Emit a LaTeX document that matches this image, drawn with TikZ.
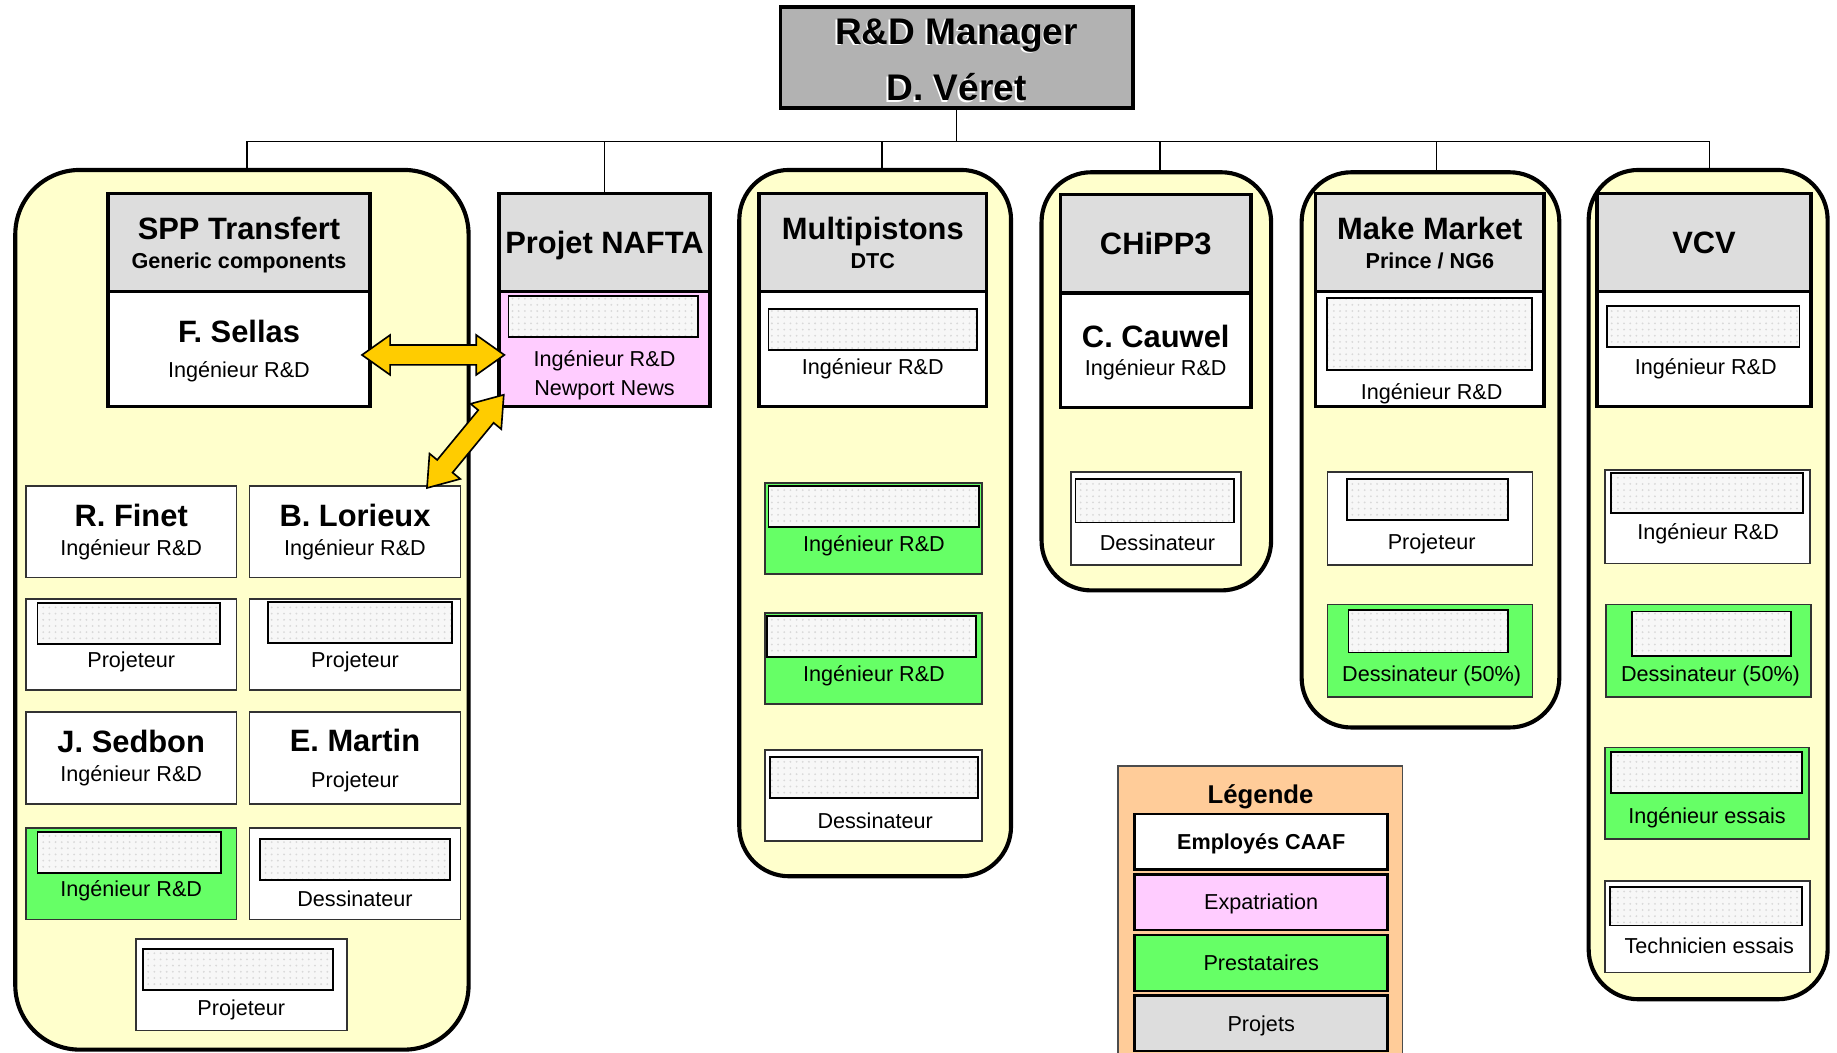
\documentclass[tikz,border=0pt]{standalone}
\usepackage{fontspec}
\setmainfont{Liberation Sans}
\usetikzlibrary{calc,positioning,patterns}
\definecolor{grpyellow}{RGB}{255,255,204}
\definecolor{hdrgray}{RGB}{221,221,221}
\definecolor{mgrgray}{RGB}{178,178,178}
\definecolor{expatpink}{RGB}{255,204,255}
\definecolor{prestgreen}{RGB}{102,255,102}
\definecolor{legorange}{RGB}{255,204,153}
\definecolor{arrowyellow}{RGB}{255,204,0}

\newcommand{\mgrfont}{\fontsize{18}{27.4}\selectfont\bfseries}
\newcommand{\namefont}{\fontsize{15}{14}\selectfont\bfseries}
\newcommand{\projsubfont}{\fontsize{10.5}{13}\selectfont\bfseries}
\newcommand{\rolefont}{\fontsize{10.5}{14}\selectfont}
\newcommand{\legtitlefont}{\fontsize{12.5}{15}\selectfont\bfseries}

%% fat yellow double arrow between two named points
\newcommand{\fatarrow}[2]{%
  \coordinate (fa-a) at ($(#1)!0.48cm!(#2)$);
  \coordinate (fa-b) at ($(#2)!0.48cm!(#1)$);
  \draw[arrowfill]
    (#1) -- ($(fa-a)!0.34cm!90:(#2)$) -- ($(fa-a)!0.17cm!90:(#2)$)
    -- ($(fa-b)!0.17cm!-90:(#1)$) -- ($(fa-b)!0.34cm!-90:(#1)$)
    -- (#2) -- ($(fa-b)!0.34cm!90:(#1)$) -- ($(fa-b)!0.17cm!90:(#1)$)
    -- ($(fa-a)!0.17cm!-90:(#2)$) -- ($(fa-a)!0.34cm!-90:(#2)$) -- cycle;
}

\tikzset{
  grp/.style={draw=black,line width=2pt,fill=grpyellow,rounded corners=0.85cm,
    inner sep=0pt,outer sep=0pt},
  mgrbox/.style={draw=black,line width=1.7pt,fill=mgrgray,inner sep=0pt,outer sep=0pt},
  hdr/.style={draw=black,line width=1.7pt,fill=hdrgray,minimum height=1.68cm,
    inner sep=0pt,outer sep=0pt,align=center,font=\namefont,text depth=0pt},
  bodybox/.style={draw=black,line width=1.7pt,fill=white,minimum height=1.96cm,
    inner sep=0pt,outer sep=0pt,align=center,font=\rolefont,text depth=0pt},
  staff/.style={draw=black!80,line width=0.8pt,fill=white,minimum width=3.6cm,
    minimum height=1.56cm,inner sep=0pt,outer sep=0pt,align=center,font=\rolefont},
  maskbox/.style={draw=black,line width=0.9pt,pattern=dots,pattern color=gray!30,
    preaction={fill=gray!6},inner sep=0pt,outer sep=0pt,minimum height=0.7cm},
  role/.style={font=\rolefont,inner sep=0pt,align=center,yshift=-0.04cm},
  legbox/.style={draw=black!70,line width=0.8pt,fill=legorange,inner sep=0pt},
  legentry/.style={draw=black,line width=1.2pt,minimum width=4.32cm,
    minimum height=0.95cm,inner sep=0pt,font=\rolefont,text depth=0pt},
  orgline/.style={line width=0.7pt},
  arrowfill/.style={fill=arrowyellow,draw=black,line width=0.8pt},
}

\begin{document}
\begin{tikzpicture}[x=0.02cm,y=-0.02cm]

\useasboundingbox (0,0) rectangle (1568,898);
\clip (0,0) rectangle (1568,898);

%% ── manager ──────────────────────────────────────────────────────────────────
\node[mgrbox,minimum width=6.02cm,minimum height=1.72cm] (mgr) at (816.5,49) {};
\node[font=\mgrfont,align=center,white,inner sep=0pt] (mgrshade)
  at ($(mgr)+(-1.5,3.5)$) {R\&D Manager\\D. Véret};
\node[font=\mgrfont,align=center,inner sep=0pt] (mgrtext)
  at ($(mgr)+(0,2)$) {R\&D Manager\\D. Véret};

%% ── project groups (yellow frames) ───────────────────────────────────────────
\node[grp,rounded corners=1.1cm,minimum width=7.74cm,minimum height=15.02cm]
  (gspp) at (206.5,520.5) {};
\node[grp,minimum width=4.64cm,minimum height=12.06cm] (gmulti) at (747,446.5) {};
\node[grp,minimum width=3.92cm,minimum height=7.14cm] (gchipp) at (987,325.5) {};
\node[grp,minimum width=4.4cm,minimum height=9.48cm] (gmarket) at (1221,384) {};
\node[grp,minimum width=4.08cm,minimum height=14.16cm] (gvcv) at (1458,499) {};

%% ════════════════════════════════════════════════════════════════════════════
%%  PROJECT HEADS
%% ════════════════════════════════════════════════════════════════════════════
\node[hdr,minimum width=4.48cm] (hspp) at (204,207)
  {SPP Transfert\\{\projsubfont Generic components}};
\node[bodybox,minimum width=4.48cm,below=0cm of hspp] (sellas)
  {{\namefont F. Sellas}\\[3pt]Ingénieur R\&D};

\node[hdr,minimum width=3.6cm] (hnafta) at (516,207) {Projet NAFTA};
\node[bodybox,fill=expatpink,minimum width=3.6cm,below=0cm of hnafta] (nafta) {};
\node[maskbox,minimum width=3.24cm] (mnafta) at (515,270.5) {};
\node[role] (tnafta) at (516,318) {Ingénieur R\&D\\Newport News};

\node[hdr,minimum width=3.88cm] (hmulti) at (745,207)
  {Multipistons\\{\projsubfont DTC}};
\node[bodybox,minimum width=3.88cm,below=0cm of hmulti] (bmulti) {};
\node[maskbox,minimum width=3.56cm] (mmulti) at (745,281.5) {};
\node[role] (tmulti) at (745,313) {Ingénieur R\&D};

\node[hdr,minimum width=3.26cm] (hchipp) at (986.5,208) {CHiPP3};
\node[bodybox,minimum width=3.26cm,below=0cm of hchipp] (cauwel)
  {{\namefont C. Cauwel}\\Ingénieur R\&D};

\node[hdr,minimum width=3.9cm] (hmarket) at (1220.5,207)
  {Make Market\\{\projsubfont Prince / NG6}};
\node[bodybox,minimum width=3.9cm,below=0cm of hmarket] (bmarket) {};
\node[maskbox,minimum width=3.5cm,minimum height=1.24cm] (mmarket) at (1220.5,285) {};
\node[role] (tmarket) at (1222,334) {Ingénieur R\&D};

\node[hdr,minimum width=3.66cm] (hvcv) at (1454.5,207) {VCV};
\node[bodybox,minimum width=3.66cm,below=0cm of hvcv] (bvcv) {};
\node[maskbox,minimum width=3.28cm] (mvcv) at (1454,278.5) {};
\node[role] (tvcv) at (1456,313) {Ingénieur R\&D};

%% ── links from the manager ──────────────────────────────────────────────────
\foreach \grp/\dx in {gspp/4.5,hnafta/0,gmulti/6,gchipp/3,gmarket/5,gvcv/1}{%
  \draw[orgline] (mgr.south) -- ++(0,29) -| ($(\grp.north)+(\dx,0)$);
}

%% ════════════════════════════════════════════════════════════════════════════
%%  SPP TRANSFERT TEAM
%% ════════════════════════════════════════════════════════════════════════════
\node[staff] (finet) at (112,454) {{\namefont R. Finet}\\Ingénieur R\&D};
\node[staff] (lorieux) at (303,454) {{\namefont B. Lorieux}\\Ingénieur R\&D};
\node[staff] (proj1) at (112,550) {};
\node[maskbox,minimum width=3.12cm] (mproj1) at (110,532.5) {};
\node[role] (tproj1) at (112,563) {Projeteur};
\node[staff] (proj2) at (303,550) {};
\node[maskbox,minimum width=3.14cm] (mproj2) at (307.5,531) {};
\node[role] (tproj2) at (303,563) {Projeteur};
\node[staff] (sedbon) at (112,647) {{\namefont J. Sedbon}\\Ingénieur R\&D};
\node[staff,text depth=0pt] (martin) at (303,647) {{\namefont E. Martin}\\[3.5pt]Projeteur};
\node[staff,fill=prestgreen] (sppext) at (112,746) {};
\node[maskbox,minimum width=3.14cm] (msppext) at (110.5,728) {};
\node[role] (tsppext) at (112,758) {Ingénieur R\&D};
\node[staff] (sppdess) at (303,746) {};
\node[maskbox,minimum width=3.24cm] (msppdess) at (303,733.5) {};
\node[role] (tsppdess) at (303,765) {Dessinateur};
\node[staff] (proj3) at (206,840.5) {};
\node[maskbox,minimum width=3.24cm] (mproj3) at (203,827.5) {};
\node[role] (tproj3) at (206,860) {Projeteur};

%% ── multipistons team ───────────────────────────────────────────────────────
\node[staff,fill=prestgreen,minimum width=3.7cm] (multiext1) at (745.5,451) {};
\node[maskbox,minimum width=3.6cm] (mmultiext1) at (746,432.5) {};
\node[role] (tmultiext1) at (746,464) {Ingénieur R\&D};
\node[staff,fill=prestgreen,minimum width=3.7cm] (multiext2) at (745.5,562) {};
\node[maskbox,minimum width=3.56cm] (mmultiext2) at (744,543) {};
\node[role] (tmultiext2) at (746,575) {Ingénieur R\&D};
\node[staff,minimum width=3.7cm] (multidess) at (745.5,679) {};
\node[maskbox,minimum width=3.56cm] (mmultidess) at (746,663.5) {};
\node[role] (tmultidess) at (747,699) {Dessinateur};

%% ── chipp3 team ─────────────────────────────────────────────────────────────
\node[staff,minimum width=2.9cm,minimum height=1.58cm] (chippdess) at (986.5,442.5) {};
\node[maskbox,minimum width=2.7cm,minimum height=0.74cm] (mchippdess) at (985.5,427.5) {};
\node[role] (tchippdess) at (988,461) {Dessinateur};

%% ── make market team ────────────────────────────────────────────────────────
\node[staff,minimum width=3.5cm,minimum height=1.58cm] (mktproj) at (1220.5,442.5) {};
\node[maskbox,minimum width=2.74cm] (mmktproj) at (1218.5,426.5) {};
\node[role] (tmktproj) at (1222,462) {Projeteur};
\node[staff,fill=prestgreen,minimum width=3.5cm,minimum height=1.58cm]
  (mktext) at (1220.5,555.5) {};
\node[maskbox,minimum width=2.72cm,minimum height=0.72cm] (mmktext) at (1219,539) {};
\node[role] (tmktext) at (1222,575) {Dessinateur (50\%)};

%% ── vcv team ────────────────────────────────────────────────────────────────
\node[staff,minimum width=3.5cm,minimum height=1.6cm] (vcving) at (1457.5,441) {};
\node[maskbox,minimum width=3.28cm,minimum height=0.68cm] (mvcving) at (1457,421) {};
\node[role] (tvcving) at (1458,454) {Ingénieur R\&D};
\node[staff,fill=prestgreen,minimum width=3.5cm,minimum height=1.58cm]
  (vcvext1) at (1458.5,555.5) {};
\node[maskbox,minimum width=2.72cm,minimum height=0.76cm] (mvcvext1) at (1461,541) {};
\node[role] (tvcvext1) at (1460,575) {Dessinateur (50\%)};
\node[staff,fill=prestgreen,minimum width=3.48cm] (vcvext2) at (1457,677) {};
\node[maskbox,minimum width=3.26cm] (mvcvext2) at (1456.5,659.5) {};
\node[role] (tvcvext2) at (1457,696) {Ingénieur essais};
\node[staff,minimum width=3.5cm] (vcvtech) at (1457.5,791) {};
\node[maskbox,minimum width=3.28cm,minimum height=0.66cm] (mvcvtech) at (1456,773.5) {};
\node[role] (tvcvtech) at (1459,805) {Technicien essais};

%% ════════════════════════════════════════════════════════════════════════════
%%  LEGEND
%% ════════════════════════════════════════════════════════════════════════════
\node[legbox,minimum width=4.86cm,minimum height=5.12cm] (legend) at (1075.5,782) {};
\node[font=\legtitlefont,inner sep=0pt,yshift=-0.06cm] (legtitle) at (1076,677) {Légende};
\node[legentry,fill=white,font=\rolefont\bfseries] (leg1) at (1076.5,718.5) {Employés CAAF};
\node[legentry,fill=expatpink] (leg2) at (1076.5,770) {Expatriation};
\node[legentry,fill=prestgreen] (leg3) at (1076.5,822) {Prestataires};
\node[legentry,fill=hdrgray] (leg4) at (1076.5,873.5) {Projets};

%% ── exchange arrows with NAFTA ──────────────────────────────────────────────
\coordinate (sellasR) at ($(sellas.east)+(-7,5)$);
\coordinate (naftaL) at ($(nafta.west)+(4.5,5)$);
\coordinate (naftaC) at ($(nafta.south west)+(4,-10)$);
\coordinate (lorieuxT) at ($(lorieux.north east)+(-28.5,1.5)$);
\fatarrow{sellasR}{naftaL}
\fatarrow{lorieuxT}{naftaC}

\end{tikzpicture}
\end{document}
